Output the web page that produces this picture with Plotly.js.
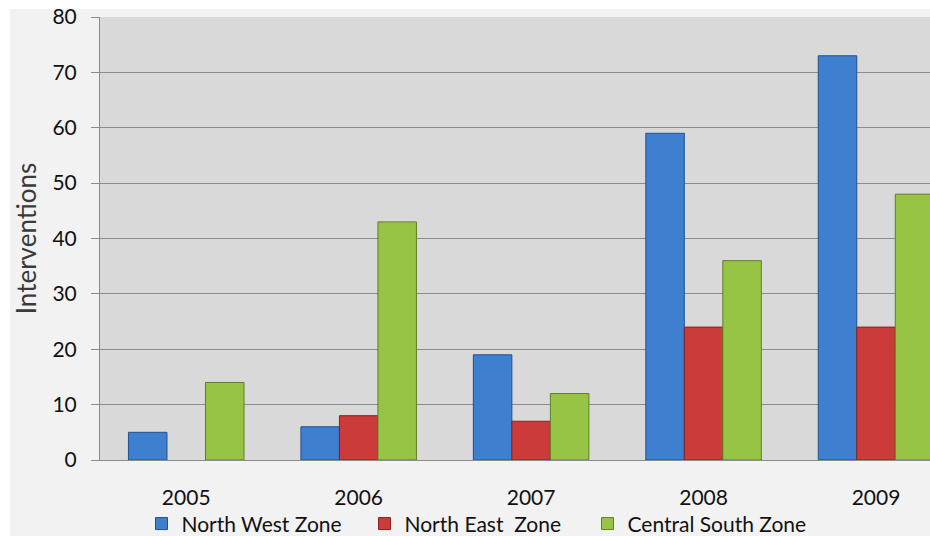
<!DOCTYPE html>
<html>
<head>
<meta charset="utf-8">
<script src="https://cdn.plot.ly/plotly-3.0.1.min.js"></script>
<style>
  html, body { margin: 0; padding: 0; background: #ffffff; width: 930px; height: 536px; overflow: hidden; }
  #chart { position: absolute; left: 0; top: 0; width: 930px; height: 536px; }
</style>
</head>
<body>
<div id="chart"></div>
<script>
const years = ['2005', '2006', '2007', '2008', '2009'];
const northWest = [5, 6, 19, 59, 73];
const northEast = [null, 8, 7, 24, 24];
const centralSouth = [14, 43, 12, 36, 48];
const seriesNames = ['North West Zone', 'North East  Zone', 'Central South Zone'];
const yTicks = [0, 10, 20, 30, 40, 50, 60, 70, 80];

const FONT = 'Lato, sans-serif';
const TXT = '#111111';

const W = 930, H = 536;
const M = { l: 100, r: 0, t: 17, b: 76 };
const plotW = W - M.l - M.r, plotH = H - M.t - M.b;

function bar(name, y, fill, edge) {
  return {
    type: 'bar', name: name, x: years, y: y,
    marker: { color: fill, line: { color: edge, width: 1 } },
    hoverinfo: 'x+y+name'
  };
}

const data = [
  bar(seriesNames[0], northWest, '#3f7fcf', '#23508c'),
  bar(seriesNames[1], northEast, '#cb3b39', '#8a2221'),
  bar(seriesNames[2], centralSouth, '#98c445', '#5f7f25')
];

// white frame strips (top and left) around the light-grey chart area
const shapes = [
  { type: 'rect', xref: 'paper', yref: 'paper', layer: 'below',
    x0: -M.l / plotW, x1: 1 + 10 / plotW, y0: 1 + (M.t - 9) / plotH, y1: 1 + (M.t + 5) / plotH,
    fillcolor: '#ffffff', line: { width: 0 } },
  { type: 'rect', xref: 'paper', yref: 'paper', layer: 'below',
    x0: -(M.l + 5) / plotW, x1: -(M.l - 10) / plotW, y0: -(M.b + 5) / plotH, y1: 1 + (M.t + 5) / plotH,
    fillcolor: '#ffffff', line: { width: 0 } }
];

const layout = {
  width: W, height: H,
  margin: { l: M.l, r: M.r, t: M.t, b: M.b, autoexpand: false },
  paper_bgcolor: '#f2f2f2',
  plot_bgcolor: '#d9d9d9',
  barmode: 'group',
  bargap: 0.33,
  bargroupgap: 0,
  font: { family: FONT, color: TXT, size: 21 },
  shapes: shapes,
  xaxis: {
    type: 'category',
    range: [-0.5, 4.313],
    showgrid: false,
    showline: true, linecolor: '#8c8c8c', linewidth: 1,
    ticks: '', ticklabelstandoff: 19,
    tickfont: { family: FONT, size: 21, color: TXT },
    fixedrange: true
  },
  yaxis: {
    range: [0, 80],
    tickvals: yTicks,
    showgrid: true, gridcolor: '#8c8c8c', gridwidth: 1,
    showline: true, linecolor: '#8c8c8c', linewidth: 1,
    ticks: 'outside', ticklen: 8, tickcolor: '#8c8c8c',
    ticklabelstandoff: 10,
    ticklabeloverflow: 'allow',
    zeroline: false,
    tickfont: { family: FONT, size: 21, color: TXT },
    title: { text: 'Interventions', font: { family: FONT, size: 26, color: '#3a3a3a' }, standoff: 8 },
    fixedrange: true
  },
  showlegend: true,
  legend: {
    orientation: 'h',
    x: 0.05, xanchor: 'left',
    y: -0.098, yanchor: 'top',
    bgcolor: 'rgba(0,0,0,0)',
    font: { family: FONT, size: 21, color: TXT },
    entrywidth: 178,
    traceorder: 'normal'
  }
};

Plotly.newPlot('chart', data, layout, { displayModeBar: false, staticPlot: true });
</script>
</body>
</html>
